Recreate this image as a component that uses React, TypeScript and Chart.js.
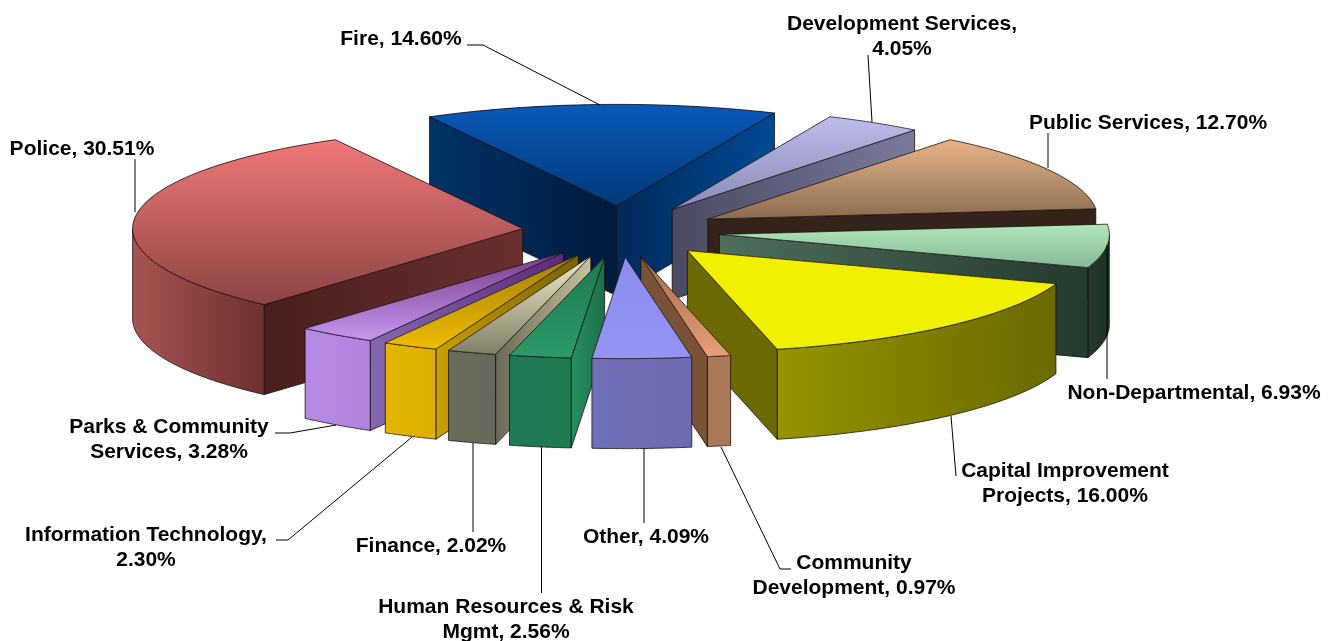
import React, { useEffect, useRef } from "react";
import { Chart, registerables } from "chart.js";

Chart.register(...registerables);

const categories = [
  "Fire", "Development Services", "Public Services", "Non-Departmental",
  "Capital Improvement Projects", "Community Development", "Other",
  "Human Resources & Risk Mgmt", "Finance", "Information Technology",
  "Parks & Community Services", "Police",
];
const shares = [14.6, 4.05, 12.7, 6.93, 16.0, 0.97, 4.09, 2.56, 2.02, 2.3, 3.28, 30.51];
const baseColors = [
  "#0050a8", "#b0b0e0", "#d0a478", "#a0dcaa", "#f0f000", "#e09a70",
  "#9090f0", "#209060", "#a8a488", "#e8b800", "#b88ce8", "#c86060",
];

// face styles: [top of face, bottom of face]
const topGrad = [
  ["#0a58b8", "#003a78"], ["#bcbcee", "#8a8ab4"], ["#e8b488", "#8a6c50"], ["#b0e8b8", "#88b898"],
  ["#f0f000", "#f0f000"], ["#a06c4c", "#e8a078"], ["#8c8cf0", "#9494f4"], ["#1e7a50", "#2c9a68"],
  ["#f0ecc8", "#808068"], ["#a08000", "#f0bc00"], ["#7a3a88", "#c498f0"], ["#f07878", "#8c4444"],
];
// radial walls: [apex colour, rim colour]
const startWall = [
  ["#001a3c", "#003468"], null, null, null, null, null, null,
  ["#1e7048", "#259060"], ["#c8c0a0", "#6a6a58"], ["#7a6000", "#c8a000"], ["#5a2a7a", "#8468b0"],
  ["#6a3030", "#4a1e1e"],
];
const endWall = [
  ["#002a5a", "#004a94"], ["#4a4a62", "#7a7a9c"], ["#33231a", "#33231a"], ["#4f6e5c", "#243a2c"],
  ["#6a6a00", "#6a6a00"], ["#7a5238", "#7a5238"], null, null, null, null, null, null,
];
// outer wall: [left, right]
const outerWall = [
  ["#004080", "#004080"], ["#7a7a9c", "#7a7a9c"], ["#33231a", "#33231a"], ["#243a2c", "#1e3026"],
  ["#949400", "#6a6a00"], ["#a87858", "#a87858"], ["#7070b8", "#6c6cb0"], ["#217a52", "#1f7a50"],
  ["#6c6c5a", "#68685a"], ["#e4b400", "#dcb000"], ["#b48ae4", "#ae84dc"], ["#a85454", "#6e3030"],
];

// label layout: centre x, first-line y, words on first line, leader polyline
const labelLayout: { x: number; y: number; wrap: number; line: number[][] }[] = [
  { x: 401, y: 39, wrap: 0, line: [[467, 45], [483, 45], [600, 105]] },
  { x: 902, y: 24, wrap: 2, line: [[868, 55], [872, 122]] },
  { x: 1148, y: 123, wrap: 0, line: [[1048, 133], [1048, 168]] },
  { x: 1194, y: 393, wrap: 0, line: [[1107, 245], [1107, 379]] },
  { x: 1065, y: 471, wrap: 2, line: [[951, 416], [956, 476]] },
  { x: 854, y: 563, wrap: 1, line: [[721, 447], [780, 569], [791, 569]] },
  { x: 646, y: 537, wrap: 0, line: [[644, 448], [644, 523]] },
  { x: 506, y: 607, wrap: 4, line: [[541.5, 447], [541.5, 593]] },
  { x: 431, y: 546, wrap: 0, line: [[473, 443], [473, 532]] },
  { x: 146, y: 535, wrap: 2, line: [[412, 437], [288, 540], [276, 540]] },
  { x: 169, y: 427, wrap: 3, line: [[336, 425], [290, 433], [275, 433]] },
  { x: 82, y: 149, wrap: 0, line: [[135, 159], [135, 212]] },
];

const SQUASH = 0.26;
const DEPTH = 90;
const EXPLODE = 99;
const RADIUS = 390;
const FONT_SIZE = 21;
const LINE_GAP = 25;

const pie3d = {
  id: "pie3d",
  beforeDatasetsDraw(chart: any) {
    const ctx: CanvasRenderingContext2D = chart.ctx;
    const arcs: any[] = chart.getDatasetMeta(0).data;
    const order = arcs
      .map((a, i) => ({ a, i, s: Math.sin((a.startAngle + a.endAngle) / 2) }))
      .sort((p, q) => p.s - q.s);

    const outline = "rgba(20,10,10,0.75)";
    for (const { a, i } of order) {
      const mid = (a.startAngle + a.endAngle) / 2;
      const ox = a.x + EXPLODE * Math.cos(mid);
      const oy = a.y + EXPLODE * Math.sin(mid) * SQUASH;
      const R = a.outerRadius;
      const px = (t: number) => ox + R * Math.cos(t);
      const py = (t: number) => oy + R * Math.sin(t) * SQUASH;
      const fillStroke = (pts: number[][], fill: any) => {
        ctx.beginPath();
        pts.forEach((p, n) => (n ? ctx.lineTo(p[0], p[1]) : ctx.moveTo(p[0], p[1])));
        ctx.closePath();
        ctx.fillStyle = fill;
        ctx.fill();
        ctx.lineWidth = 1;
        ctx.strokeStyle = outline;
        ctx.stroke();
      };
      const radial = (t: number, cols: string[]) => {
        const g = ctx.createLinearGradient(ox, 0, px(t), 0);
        g.addColorStop(0, cols[0]);
        g.addColorStop(1, cols[1]);
        fillStroke(
          [[ox, oy], [px(t), py(t)], [px(t), py(t) + DEPTH], [ox, oy + DEPTH]],
          g
        );
      };
      // outer wall: the front-facing part of the rim
      const TAU = Math.PI * 2;
      for (const shift of [-TAU, 0, TAU]) {
        const t0 = Math.max(a.startAngle + shift, 0);
        const t1 = Math.min(a.endAngle + shift, Math.PI);
        if (t1 > t0) {
          const top: number[][] = [];
          const n = 40;
          for (let k = 0; k <= n; k++) {
            const t = t0 + ((t1 - t0) * k) / n;
            top.push([px(t), py(t)]);
          }
          const bottom = top.map((p) => [p[0], p[1] + DEPTH]).reverse();
          const xs = top.map((p) => p[0]);
          const g = ctx.createLinearGradient(Math.min(...xs), 0, Math.max(...xs), 0);
          g.addColorStop(0, outerWall[i][0]);
          g.addColorStop(1, outerWall[i][1]);
          fillStroke([...top, ...bottom], g);
        }
      }
      // cut walls facing the viewer
      if (Math.cos(a.startAngle) < 0 && startWall[i]) radial(a.startAngle, startWall[i] as string[]);
      if (Math.cos(a.endAngle) > 0 && endWall[i]) radial(a.endAngle, endWall[i] as string[]);

      // the library's own arc, squashed and moved out
      ctx.save();
      ctx.translate(ox, oy);
      ctx.scale(1, SQUASH);
      ctx.translate(-a.x, -a.y);
      a.draw(ctx);
      ctx.restore();

      // shaded face on top of it
      const face: number[][] = [[ox, oy]];
      const n = 60;
      for (let k = 0; k <= n; k++) {
        const t = a.startAngle + ((a.endAngle - a.startAngle) * k) / n;
        face.push([px(t), py(t)]);
      }
      const ys = face.map((p) => p[1]);
      const g = ctx.createLinearGradient(0, Math.min(...ys), 0, Math.max(...ys));
      g.addColorStop(0, topGrad[i][0]);
      g.addColorStop(1, topGrad[i][1]);
      fillStroke(face, g);
    }
    return false;
  },
  afterDraw(chart: any) {
    const ctx: CanvasRenderingContext2D = chart.ctx;
    ctx.save();
    ctx.strokeStyle = "#000";
    ctx.lineWidth = 1;
    ctx.fillStyle = "#000";
    ctx.font = `bold ${FONT_SIZE}px "Liberation Sans", Arial, sans-serif`;
    ctx.textAlign = "center";
    ctx.textBaseline = "middle";
    categories.forEach((name, i) => {
      const L = labelLayout[i];
      ctx.beginPath();
      L.line.forEach((p, n) => (n ? ctx.lineTo(p[0], p[1]) : ctx.moveTo(p[0], p[1])));
      ctx.stroke();
      const words = `${name}, ${shares[i].toFixed(2)}%`.split(" ");
      const lines = L.wrap
        ? [words.slice(0, L.wrap).join(" "), words.slice(L.wrap).join(" ")]
        : [words.join(" ")];
      lines.forEach((t, n) => ctx.fillText(t, L.x, L.y + n * LINE_GAP));
    });
    ctx.restore();
  },
};

export default function App() {
  const ref = useRef<HTMLCanvasElement>(null);
  useEffect(() => {
    const chart = new Chart(ref.current as HTMLCanvasElement, {
      type: "pie",
      data: {
        labels: categories,
        datasets: [{ data: shares, backgroundColor: baseColors, borderWidth: 0 }],
      },
      options: {
        animation: false,
        responsive: false,
        rotation: -28.7,
        radius: RADIUS,
        layout: { padding: { left: 0, top: 0, right: 97, bottom: 178 } },
        plugins: { legend: { display: false }, tooltip: { enabled: false } },
      },
      plugins: [pie3d],
    } as any);
    return () => chart.destroy();
  }, []);
  return (
    <canvas
      ref={ref}
      width={1339}
      height={641}
      style={{ position: "absolute", left: 0, top: 0, display: "block", background: "#fff" }}
    />
  );
}
